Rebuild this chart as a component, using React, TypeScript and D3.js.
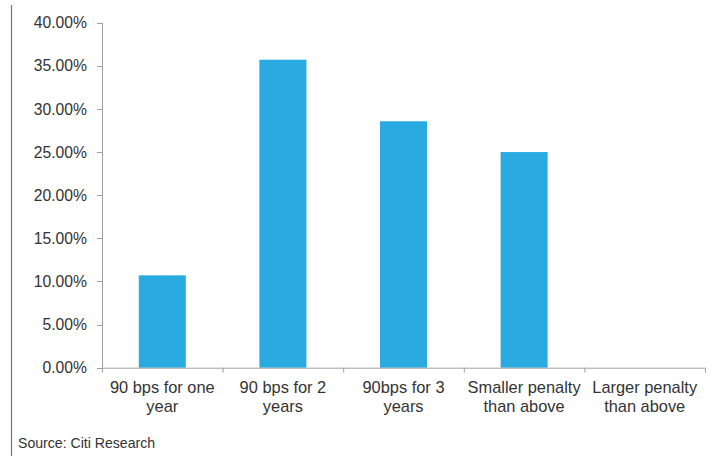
import React, { useEffect, useRef } from "react";
import * as d3 from "d3";

const categories: string[][] = [
  ["90 bps for one", "year"],
  ["90 bps for 2", "years"],
  ["90bps for 3", "years"],
  ["Smaller penalty", "than above"],
  ["Larger penalty", "than above"],
];
const values: number[] = [0.1071, 0.3571, 0.2857, 0.25, 0];
const yTicks: number[] = [0, 0.05, 0.1, 0.15, 0.2, 0.25, 0.3, 0.35, 0.4];
const sourceText = "Source: Citi Research";

const W = 719;
const H = 456;

export default function App() {
  const ref = useRef<SVGSVGElement>(null);
  useEffect(() => {
    const svg = d3.select(ref.current);
    svg.selectAll("*").remove();
    const left = 102, right = 705, top = 22.7, bottom = 367.7;
    const font = "'Liberation Sans', Arial, sans-serif";
    const textColor = "#333";
    const axisColor = "#a0a0a0";

    const x = d3.scaleBand<number>().domain(d3.range(categories.length)).range([left, right]).paddingInner(0.61).paddingOuter(0.305);
    const xb = d3.scaleBand<number>().domain(d3.range(categories.length)).range([left, right]);
    const y = d3.scaleLinear().domain([0, 0.4]).range([bottom, top]);

    // left frame line
    svg.append("line").attr("x1", 11.5).attr("x2", 11.5).attr("y1", 5).attr("y2", H)
      .attr("stroke", "#777").attr("stroke-width", 1.2);

    // bars
    svg.append("g").selectAll("rect").data(values).join("rect")
      .attr("x", (_, i) => x(i)!)
      .attr("width", x.bandwidth())
      .attr("y", (d) => y(d))
      .attr("height", (d) => bottom - y(d))
      .attr("fill", "#29abe2");

    // y axis
    const gy = svg.append("g");
    gy.append("line").attr("x1", left + 0.5).attr("x2", left + 0.5).attr("y1", top).attr("y2", bottom)
      .attr("stroke", axisColor);
    yTicks.forEach((t) => {
      gy.append("line").attr("x1", left - 5).attr("x2", left).attr("y1", Math.round(y(t)) + 0.5).attr("y2", Math.round(y(t)) + 0.5)
        .attr("stroke", axisColor);
      gy.append("text").attr("x", 87).attr("y", y(t)).attr("dy", "0.36em")
        .attr("text-anchor", "end").attr("font-family", font).attr("font-size", 15.7)
        .attr("fill", textColor).text(d3.format(".2%")(t));
    });

    // x axis
    const gx = svg.append("g");
    gx.append("line").attr("x1", left).attr("x2", right).attr("y1", bottom + 0.5).attr("y2", bottom + 0.5)
      .attr("stroke", axisColor);
    const bounds = [...d3.range(categories.length).map((i) => xb(i)!), right];
    bounds.forEach((b) => {
      gx.append("line").attr("x1", b + 0.5).attr("x2", b + 0.5).attr("y1", bottom).attr("y2", bottom + 5)
        .attr("stroke", axisColor);
    });
    categories.forEach((lines, i) => {
      const cx = xb(i)! + xb.bandwidth() / 2;
      lines.forEach((l, j) => {
        gx.append("text").attr("x", cx).attr("y", 393 + j * 18.5)
          .attr("text-anchor", "middle").attr("font-family", font).attr("font-size", 16.4)
          .attr("fill", textColor).text(l);
      });
    });

    svg.append("text").attr("x", 18).attr("y", 448).attr("font-family", font).attr("font-size", 14.1)
      .attr("fill", textColor).text(sourceText);
  }, []);
  return (
    <svg ref={ref} width={W} height={H} style={{ position: "absolute", left: 0, top: 0, background: "#fff" }} />
  );
}
